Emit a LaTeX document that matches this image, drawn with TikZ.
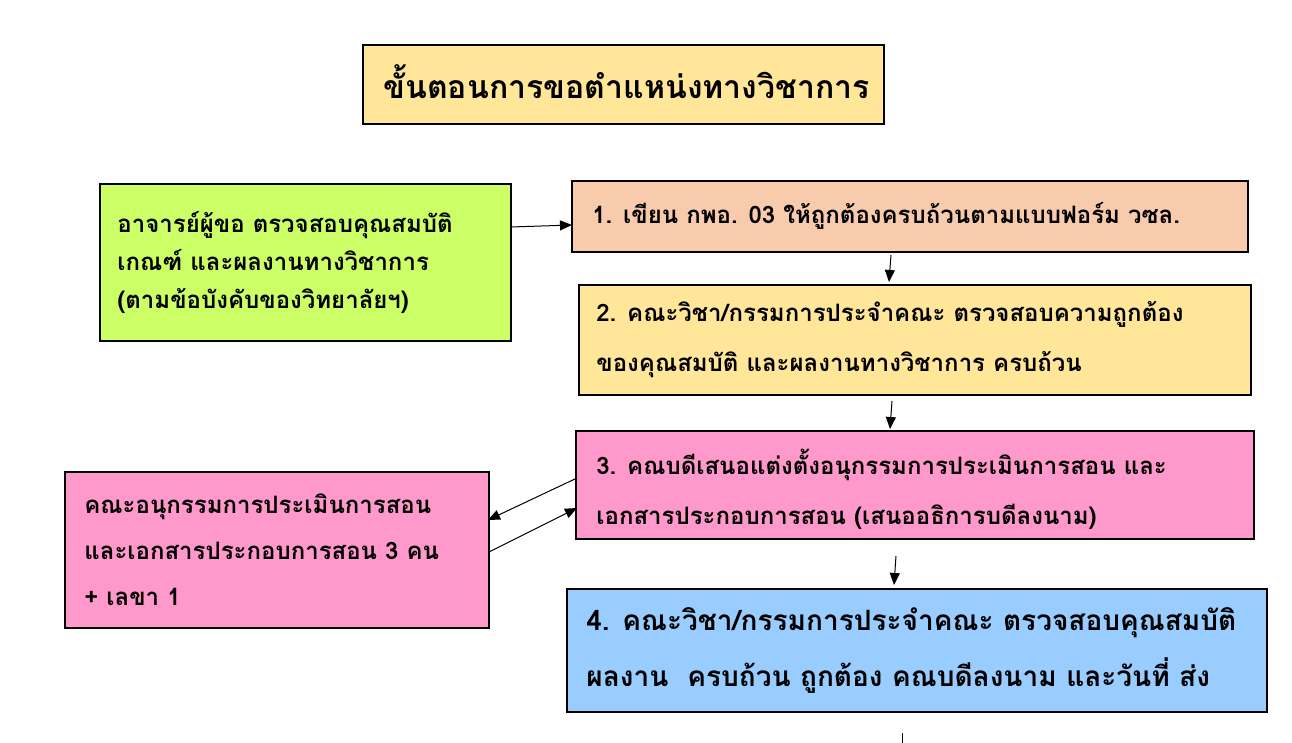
\documentclass[tikz,border=0pt]{standalone}
\usepackage{fontspec}
\newfontfamily\thai[Script=Thai]{Loma}
\usetikzlibrary{arrows.meta}
\definecolor{ttl}{HTML}{FFE699}
\definecolor{grn}{HTML}{CCFF66}
\definecolor{peach}{HTML}{F8CBAD}
\definecolor{yel}{HTML}{FFE699}
\definecolor{pnk}{HTML}{FF99CC}
\definecolor{blu}{HTML}{99CCFF}
\tikzset{box/.style={draw=black,line width=0.7pt},
 txt/.style={anchor=west,align=left,font=\thai\bfseries\fontsize{12}{19}\selectfont,inner sep=0},
 arr/.style={-{Triangle[length=6pt,width=5pt]},line width=0.5pt}}
\begin{document}
\begin{tikzpicture}[x=0.5pt,y=-0.5pt]
\useasboundingbox (0,0) rectangle (1292,743);
\filldraw[box,fill=ttl] (363,45) rectangle (884,124);
\node[txt,font=\thai\bfseries\fontsize{16}{20}\selectfont] (t) at (383,82) {ขั้นตอนการขอตำแหน่งทางวิชาการ};
\filldraw[box,fill=grn] (100,184) rectangle (511,341);
\node[txt] (g) at (117,262) {อาจารย์ผู้ขอ ตรวจสอบคุณสมบัติ\\เกณฑ์ และผลงานทางวิชาการ\\(ตามข้อบังคับของวิทยาลัยฯ)};
\filldraw[box,fill=peach] (572,181) rectangle (1248,252);
\node[txt] (b1) at (592,216) {1. เขียน กพอ. 03 ให้ถูกต้องครบถ้วนตามแบบฟอร์ม วซล.};
\filldraw[box,fill=yel] (579,285) rectangle (1251,395);
\node[txt,font=\thai\bfseries\fontsize{12}{25}\selectfont] (b2) at (596,340) {2. คณะวิชา/กรรมการประจำคณะ ตรวจสอบความถูกต้อง\\ของคุณสมบัติ และผลงานทางวิชาการ ครบถ้วน};
\filldraw[box,fill=pnk] (576,431) rectangle (1254,539);
\node[txt,font=\thai\bfseries\fontsize{12}{25}\selectfont] (b3) at (596,489) {3. คณบดีเสนอแต่งตั้งอนุกรรมการประเมินการสอน และ\\เอกสารประกอบการสอน (เสนออธิการบดีลงนาม)};
\filldraw[box,fill=pnk] (65,472) rectangle (489,628);
\node[txt,font=\thai\bfseries\fontsize{12}{23}\selectfont] (l) at (84,550) {คณะอนุกรรมการประเมินการสอน\\และเอกสารประกอบการสอน 3 คน\\+ เลขา 1};
\filldraw[box,fill=blu] (567,589) rectangle (1267,712);
\node[txt,font=\thai\bfseries\fontsize{14}{28}\selectfont] (b4) at (586,650) {4. คณะวิชา/กรรมการประจำคณะ ตรวจสอบคุณสมบัติ\\ผลงาน~ ครบถ้วน ถูกต้อง คณบดีลงนาม และวันที่ ส่ง};
\coordinate (a1) at (511,227); \coordinate (a2) at (572,225);
\coordinate (c1) at (891,255); \coordinate (c2) at (889,282);
\coordinate (d1) at (892,401); \coordinate (d2) at (890,429);
\coordinate (e1) at (577,478); \coordinate (e2) at (488,520);
\coordinate (f1) at (489,552); \coordinate (f2) at (577,508);
\coordinate (h1) at (896,556); \coordinate (h2) at (894,585);
\coordinate (s1) at (902,733); \coordinate (s2) at (902,743);
\draw[arr] (a1) -- (a2);
\draw[arr] (c1) -- (c2);
\draw[arr] (d1) -- (d2);
\draw[arr] (e1) -- (e2);
\draw[arr] (f1) -- (f2);
\draw[arr] (h1) -- (h2);
\draw[line width=0.5pt] (s1) -- (s2);
\end{tikzpicture}
\end{document}
